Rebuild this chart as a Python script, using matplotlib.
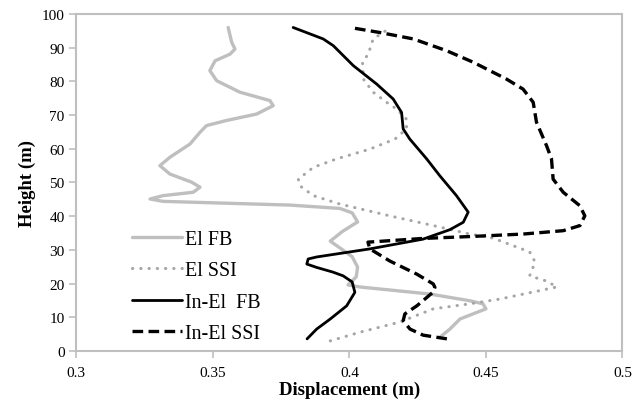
import matplotlib.pyplot as plt

# displacement (m) vs height (m)
el_fb_x = [0.433, 0.4368, 0.4405, 0.450, 0.4489, 0.4441, 0.4295, 0.4038, 0.3995, 0.4025, 0.403,
           0.401, 0.393, 0.3975, 0.403, 0.401, 0.3965, 0.3782, 0.3318, 0.327, 0.3318, 0.3428,
           0.3453, 0.3422, 0.3343, 0.3306, 0.3343, 0.3416, 0.3453, 0.3477, 0.355, 0.366, 0.3721,
           0.3709, 0.3599, 0.3514, 0.3489, 0.3508, 0.3563, 0.3581, 0.3569, 0.3556]
el_fb_y = [4, 6.5, 9.5, 12.5, 14, 14.9, 16.9, 19.0, 19.6, 22, 24.9,
           28, 32.6, 35.5, 38.3, 41, 42.3, 43.3, 44.4, 45.1, 46.1, 47.1,
           48.6, 50.1, 52.5, 55, 57.5, 61.4, 64.9, 66.9, 68.4, 70.3, 72.8,
           74.3, 76.8, 80.2, 83.2, 86.1, 88.1, 89.6, 91.6, 96]

el_ssi_x = [0.393, 0.404, 0.4185, 0.4307, 0.4441, 0.455, 0.476, 0.472, 0.466, 0.468, 0.466,
            0.4526, 0.4441, 0.433, 0.4148, 0.3965, 0.3868, 0.3819, 0.3813, 0.3868, 0.3953,
            0.4075, 0.4167, 0.4209, 0.4209, 0.4173, 0.4136, 0.4087, 0.4051, 0.4048, 0.4069,
            0.4087, 0.4142]
el_ssi_y = [3, 5.6, 8.6, 12.5, 14, 15.4, 19, 20.8, 22.3, 26.4, 29.4,
            33.5, 34.7, 36.8, 40.1, 43.6, 46.1, 49, 51, 54.5, 57,
            59.9, 62.9, 65.9, 68.8, 71.8, 73.8, 76.8, 80.7, 85.7, 88.1,
            92.6, 95.5]

inel_fb_x = [0.3845, 0.388, 0.393, 0.399, 0.402, 0.401, 0.3977, 0.394, 0.388, 0.3844, 0.3849,
             0.388, 0.4075, 0.427, 0.4368, 0.4417, 0.4435, 0.4392, 0.4331, 0.4283, 0.4221,
             0.4197, 0.4191, 0.416, 0.410, 0.4014, 0.3941, 0.3904, 0.3794]
inel_fb_y = [3.6, 6.5, 9.5, 13.4, 17.4, 20.5, 22.3, 23.4, 24.8, 25.8, 27.3,
             27.9, 30.3, 33.2, 36, 38.2, 41.2, 46.1, 52, 57, 62.9,
             65.9, 70.8, 74.8, 79.2, 84.7, 90.6, 92.6, 96]

inel_ssi_x = [0.4357, 0.427, 0.4222, 0.4197, 0.4203, 0.4247, 0.4307, 0.4313, 0.4307, 0.4247,
              0.4148, 0.4075, 0.4068, 0.427, 0.4453, 0.4636, 0.4783, 0.4844, 0.4862, 0.4844,
              0.4783, 0.4746, 0.474, 0.4722, 0.4685, 0.4673, 0.4636, 0.4575, 0.4453, 0.4356,
              0.4234, 0.4112, 0.4002]
inel_ssi_y = [3.6, 4.7, 6.5, 9, 11, 13.4, 17.5, 18.9, 19.9, 22.8,
              26.7, 30.3, 32.3, 33.4, 34.0, 34.7, 35.7, 37.2, 40.1, 43.1,
              47.1, 51, 57, 60.9, 67.9, 73.8, 77.7, 80.7, 85.7, 89.1,
              92.6, 94.5, 96]

plt.rcParams['font.family'] = ['Liberation Serif', 'DejaVu Serif']

fig = plt.figure(figsize=(6.44, 4.02), dpi=100)
ax = fig.add_axes([0.1185, 0.1244, 0.8481, 0.8383])

ax.plot(el_fb_x, el_fb_y, color='#BFBFBF', lw=2.4, label='El FB',
        solid_joinstyle='round', solid_capstyle='round')
ax.plot(el_ssi_x, el_ssi_y, color='#A6A6A6', lw=2.2, linestyle=(0, (0.1, 2.6)),
        dash_capstyle='round', label='El SSI')
ax.plot(inel_fb_x, inel_fb_y, color='black', lw=2.0, label='In-El  FB',
        solid_joinstyle='round', solid_capstyle='round')
ax.plot(inel_ssi_x, inel_ssi_y, color='black', lw=2.4, linestyle=(0, (3.2, 1.6)),
        dash_joinstyle='round', label='In-El SSI')

ax.set_xlim(0.3, 0.5)
ax.set_ylim(0, 100)
ax.set_xticks([0.3, 0.35, 0.4, 0.45, 0.5])
ax.set_xticklabels(['0.3', '0.35', '0.4', '0.45', '0.5'])
ax.set_yticks(range(0, 101, 10))

for s in ax.spines.values():
    s.set_color('#BFBFBF')
    s.set_linewidth(1.5)
ax.tick_params(axis='both', colors='#BFBFBF', labelcolor='black', labelsize=11,
               length=5, width=1.2, direction='out')
ax.tick_params(axis='x', pad=6)

ax.set_xlabel('Displacement (m)', fontsize=13.5, fontweight='bold', labelpad=1)
ax.set_ylabel('Height (m)', fontsize=13.5, fontweight='bold', labelpad=4)

ax.legend(loc='upper left', bbox_to_anchor=(0.0875, 0.383), frameon=False, fontsize=14.4,
          handlelength=2.5, handletextpad=0.15, labelspacing=0.62, borderaxespad=0)

fig.savefig('out.png', dpi=100)
